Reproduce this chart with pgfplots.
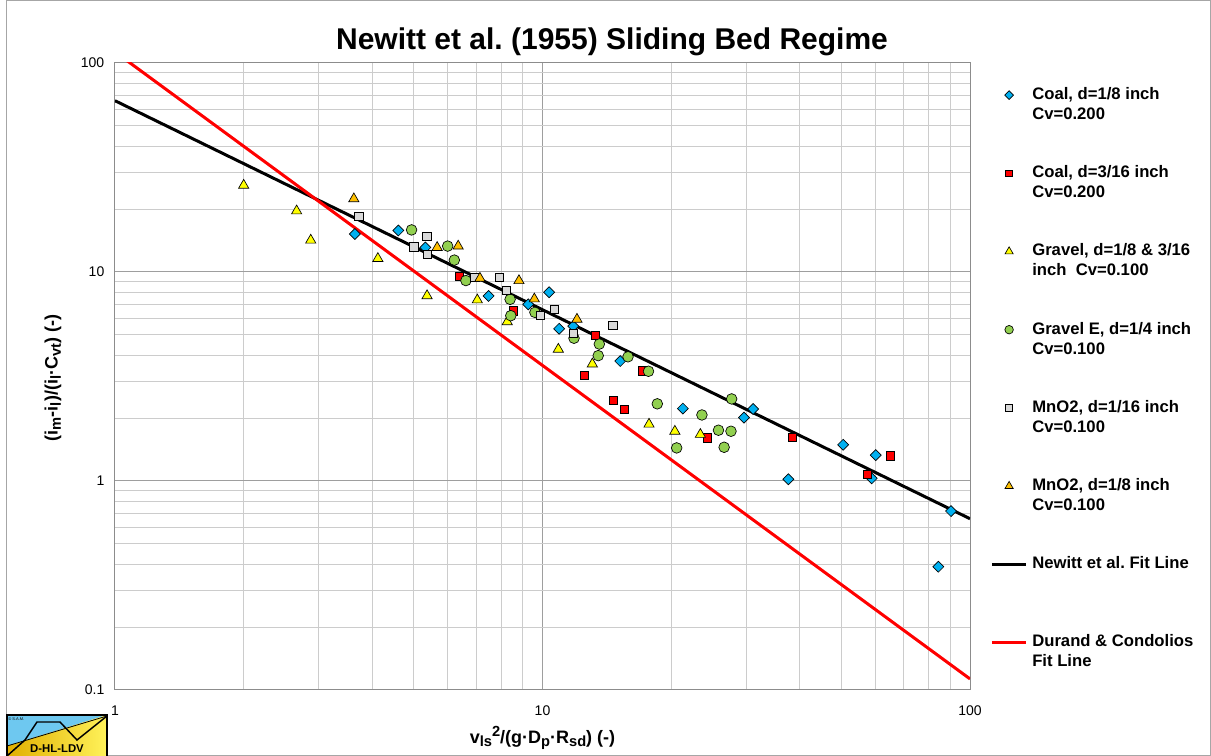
\documentclass[border=0pt]{standalone}
\usepackage{pgfplots}
\pgfplotsset{compat=1.18}
\usepackage{fontspec}
\setmainfont{Liberation Sans}
\frenchspacing

\definecolor{coalblue}{RGB}{0,176,240}
\definecolor{coalred}{RGB}{255,0,0}
\definecolor{gravyellow}{RGB}{255,255,0}
\definecolor{gravgreen}{RGB}{146,208,80}
\definecolor{mngrey}{RGB}{217,217,217}
\definecolor{mnorange}{RGB}{255,192,0}
\definecolor{logoblue}{RGB}{110,200,240}
\definecolor{logogold}{RGB}{225,175,0}
\definecolor{logolight}{RGB}{255,242,90}

% two-line legend text, baseline on first line
\newcommand\legtwo[2]{\parbox[t]{150pt}{#1\\#2}}
% larger sub/superscripts, as in the spreadsheet labels
\newcommand\sbs[1]{\raisebox{-0.35ex}{\fontsize{11}{12}\selectfont #1}}
\newcommand\sps[1]{\raisebox{0.75ex}{\fontsize{11}{12}\selectfont #1}}

\begin{document}
\begin{tikzpicture}
\useasboundingbox (0,0) rectangle (908.25pt,567pt);
\draw[black!35, line width=0.75pt] (4.5pt,0.4pt) rectangle (907.8pt,566.6pt);

\begin{axis}[
    at={(86.25pt,49.5pt)}, anchor=south west,
    scale only axis, width=641.25pt, height=470.25pt,
    xmode=log, ymode=log,
    xmin=1, xmax=100, ymin=0.1, ymax=100,
    xtick={1,10,100}, xticklabels={1,10,100},
    ytick={0.1,1,10,100}, yticklabels={0.1,1,10,100},
    minor xtick={2,3,4,5,6,7,8,9,20,30,40,50,60,70,80,90},
    minor ytick={0.2,0.3,0.4,0.5,0.6,0.7,0.8,0.9,2,3,4,5,6,7,8,9,20,30,40,50,60,70,80,90},
    grid=both,
    major grid style={draw=black!38, line width=0.75pt},
    minor grid style={draw=black!20, line width=0.75pt},
    axis line style={draw=black!45, line width=0.75pt},
    major tick length=0pt, minor tick length=0pt,
    ticklabel style={font=\fontsize{10.5}{12}\selectfont},
    xticklabel style={yshift=-8pt},
    yticklabel style={xshift=-4.5pt},
    xlabel={v\sbs{ls}\sps{2}/(g·D\sbs{p}·R\sbs{sd}) (-)},
    ylabel={(i\sbs{m}-i\sbs{l})/(i\sbs{l}·C\sbs{vt}) (-)},
    label style={font=\bfseries\fontsize{13.5}{15}\selectfont},
    xlabel style={at={(axis description cs:0.5,-0.0766)}, anchor=center},
    ylabel style={at={(axis description cs:-0.0725,0.4976)}, anchor=center},
    legend style={at={(axis description cs:1.0234,0.9612)}, anchor=north west,
        draw=none, fill=none, inner sep=0pt, row sep=0pt, column sep=3.25pt,
        font=\bfseries\fontsize{12.5}{15}\selectfont,
        nodes={inner sep=0pt, text height=9pt, text depth=49.65pt}},
    legend cell align=left,
    legend image code/.code={\draw[yshift=23.7pt, mark repeat=2,mark phase=2,#1,
        every mark/.append style={scale=0.8}]
        plot coordinates {(0pt,0pt) (13pt,0pt) (26pt,0pt)};},
]

% Coal, d=1/8 inch
\addplot[only marks, mark=square*, mark size=2.9pt,
    mark options={rotate=45, fill=coalblue, draw=black, line width=0.5pt}]
    coordinates {
    (3.64,15.2) (4.60,15.8) (5.32,13.1) (7.48,7.68) (9.26,7.0) (10.36,8.0)
    (10.94,5.35) (11.8,5.51) (15.2,3.75) (21.3,2.22) (29.6,2.01) (31.1,2.21)
    (37.6,1.02) (50.5,1.49) (58.9,1.03) (60.2,1.33) (84.3,0.389) (90.3,0.718)
    };
\addlegendentry{\legtwo{Coal, d=1/8 inch}{Cv=0.200}}

% Coal, d=3/16 inch
\addplot[only marks, mark=square*, mark size=3.1pt,
    mark options={fill=coalred, draw=black, line width=0.5pt}]
    coordinates {
    (6.38,9.5) (8.54,6.51) (12.53,3.20) (13.27,4.98) (14.62,2.44) (15.54,2.20)
    (17.16,3.37) (24.3,1.61) (38.4,1.62) (57.6,1.08) (65.0,1.32)
    };
\addlegendentry{\legtwo{Coal, d=3/16 inch}{Cv=0.200}}

% Gravel
\addplot[only marks, mark=triangle*, mark size=4.4pt,
    mark options={fill=gravyellow, draw=black, line width=0.5pt}]
    coordinates {
    (2.0,26) (2.66,19.6) (2.87,14.2) (4.12,11.6) (5.37,7.7) (7.04,7.35)
    (8.27,5.78) (10.89,4.27) (13.08,3.63) (17.75,1.87) (20.4,1.73) (23.4,1.67)
    };
\addlegendentry{\legtwo{Gravel, d=1/8 \& 3/16}{inch\ \ Cv=0.100}}

% Gravel E
\addplot[only marks, mark=*, mark size=4pt,
    mark options={fill=gravgreen, draw=black, line width=0.5pt}]
    coordinates {
    (4.94,15.9) (6.0,13.3) (6.22,11.4) (6.62,9.1) (8.40,7.40) (8.43,6.18)
    (9.6,6.41) (11.85,4.82) (13.58,4.52) (13.5,3.98) (15.85,3.93) (17.7,3.35)
    (18.56,2.34) (23.6,2.07) (20.6,1.44) (25.8,1.75) (27.6,1.73) (26.6,1.45)
    (27.7,2.47)
    };
\addlegendentry{\legtwo{Gravel E, d=1/4 inch}{Cv=0.100}}

% MnO2, d=1/16 inch
\addplot[only marks, mark=square*, mark size=3.1pt,
    mark options={fill=mngrey, draw=black, line width=0.5pt}]
    coordinates {
    (3.72,18.4) (5.0,13.2) (5.36,14.8) (5.38,12.1) (6.95,9.43) (7.93,9.43)
    (8.23,8.14) (9.9,6.18) (10.64,6.63) (11.8,5.09) (14.6,5.56)
    };
\addlegendentry{\legtwo{MnO2, d=1/16 inch}{Cv=0.100}}

% MnO2, d=1/8 inch
\addplot[only marks, mark=triangle*, mark size=4.4pt,
    mark options={fill=mnorange, draw=black, line width=0.5pt}]
    coordinates {
    (3.62,22.4) (5.67,13.1) (6.35,13.3) (7.14,9.33) (8.81,9.09) (9.57,7.43)
    (12.04,5.94)
    };
\addlegendentry{\legtwo{MnO2, d=1/8 inch}{Cv=0.100}}

% fit lines
\addplot[black, line width=2.25pt] coordinates {(1,66) (100,0.66)};
\addlegendentry{Newitt et al. Fit Line}
\addplot[red, line width=2.25pt] coordinates {(1,113) (100,0.113)};
\addlegendentry{\legtwo{Durand \& Condolios}{Fit Line}}
\end{axis}

\node[font=\bfseries\fontsize{22.5}{27}\selectfont, anchor=base]
    at (459pt,529.9pt) {Newitt et al. (1955) Sliding Bed Regime};

% logo, pixel coordinates
\begin{scope}[x=0.75pt, y=-0.75pt, yshift=567pt]
  \fill[logoblue] (7,715) -- (107,715) -- (7,746) -- cycle;
  \shade[left color=logogold, right color=logolight]
      (7,746) -- (107,715) -- (107,756) -- (7,756) -- cycle;
  \draw[black, line width=0.6pt] (7,746) -- (107,716);
  \draw[black, line width=1.1pt] (7,756) -- (25,740) -- (37,722) -- (60,722) -- (77,740) -- (107,716);
  \draw[black, line width=1.3pt] (7,756) -- (7,715) -- (107,715) -- (107,756);
  \node[font=\fontsize{3}{3}\selectfont, anchor=west, inner sep=0pt] at (8,719) {© S.A.M.};
  \node[font=\bfseries\fontsize{8.5}{9}\selectfont, inner sep=0pt] at (57,749) {D-HL-LDV};
\end{scope}
\end{tikzpicture}
\end{document}
